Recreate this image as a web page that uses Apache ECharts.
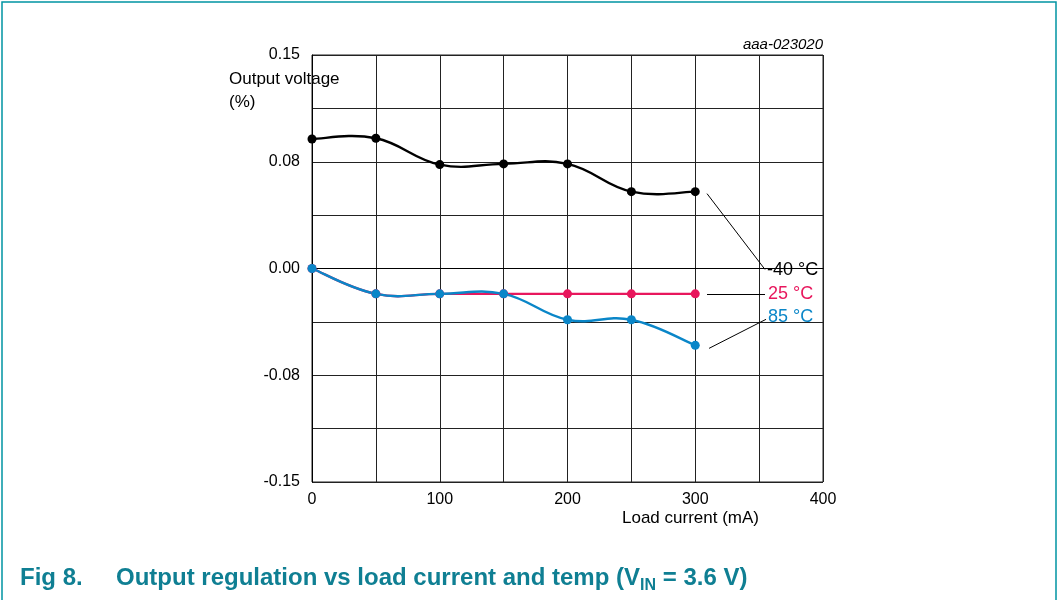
<!DOCTYPE html>
<html>
<head>
<meta charset="utf-8">
<script src="https://cdn.jsdelivr.net/npm/echarts@6/dist/echarts.min.js"></script>
<style>
  html, body { margin: 0; padding: 0; background: #fff; }
  #chart { width: 1057px; height: 600px; }
</style>
</head>
<body>
<div id="chart"></div>
<script>
// load current (mA)
var loadCurrent = [0, 50, 100, 150, 200, 250, 300];
// output voltage deviation (%)
var vMinus40 = [0.091, 0.0915, 0.073, 0.0735, 0.0735, 0.054, 0.054];
var v25 = [0, -0.0178, -0.0178, -0.0178, -0.0178, -0.0178, -0.0178];
var v85 = [0, -0.0178, -0.0178, -0.0178, -0.036, -0.036, -0.054];
var yTickLabels = ['-0.15', '-0.08', '0.00', '0.08', '0.15'];
var xTickLabels = ['0', '100', '200', '300', '400'];

var FONT = '"Liberation Sans", Arial, sans-serif';
var TITLE_COLOR = '#0f7f93';

function pairs(ys) {
  return loadCurrent.map(function (x, i) { return [x, ys[i]]; });
}

function leader(from, to) {
  return {
    silent: true,
    symbol: 'none',
    animation: false,
    label: { show: false },
    lineStyle: { color: '#000', width: 1, type: 'solid' },
    data: [[{ coord: from }, { coord: to }]]
  };
}

// spline through the points (cardinal style, like the original plot)
function curveSeries(ys, color) {
  var data = pairs(ys);
  return {
    type: 'custom',
    silent: true,
    z: 1,
    data: data,
    renderItem: function (params, api) {
      var i = params.dataIndex;
      var n = data.length;
      if (i >= n - 1) return null;
      var p = data.map(function (d) { return api.coord(d); });
      var p0 = p[Math.max(i - 1, 0)], p1 = p[i], p2 = p[i + 1], p3 = p[Math.min(i + 2, n - 1)];
      var k = 1.25 / 6;
      return {
        type: 'bezierCurve',
        shape: {
          x1: p1[0], y1: p1[1],
          x2: p2[0], y2: p2[1],
          cpx1: p1[0] + (p2[0] - p0[0]) * k,
          cpy1: p1[1] + (p2[1] - p0[1]) * k,
          cpx2: p2[0] - (p3[0] - p1[0]) * k,
          cpy2: p2[1] - (p3[1] - p1[1]) * k
        },
        style: { stroke: color, lineWidth: 2.4, fill: null }
      };
    }
  };
}

function pointSeries(name, ys, color, from, to) {
  return {
    name: name,
    type: 'line',
    z: 3,
    data: pairs(ys),
    symbol: 'circle',
    symbolSize: 9,
    itemStyle: { color: color },
    lineStyle: { width: 0, opacity: 0 },
    markLine: leader(from, to)
  };
}

var chart = echarts.init(document.getElementById('chart'));

var option = {
  animation: false,
  backgroundColor: '#fff',
  grid: {
    left: 312,
    right: 234,
    top: 55,
    bottom: 118,
    show: true,
    borderColor: '#222',
    borderWidth: 1
  },
  xAxis: {
    type: 'value',
    min: 0,
    max: 400,
    interval: 50,
    axisLine: { show: true, lineStyle: { color: '#000', width: 1 } },
    axisTick: { show: false },
    axisLabel: {
      color: '#000',
      fontSize: 16,
      fontFamily: FONT,
      margin: 10,
      showMinLabel: true,
      showMaxLabel: true,
      formatter: function (v) {
        if (v % 100 !== 0) return '';
        return xTickLabels[v / 100];
      }
    },
    splitLine: { show: true, lineStyle: { color: '#222', width: 1 } }
  },
  yAxis: {
    type: 'value',
    min: -0.15,
    max: 0.15,
    interval: 0.0375,
    axisLine: { show: true, lineStyle: { color: '#000', width: 1 } },
    axisTick: { show: false },
    axisLabel: {
      color: '#000',
      fontSize: 16,
      fontFamily: FONT,
      margin: 12,
      showMinLabel: true,
      showMaxLabel: true,
      formatter: function (v) {
        var k = v / 0.075;
        if (Math.abs(k - Math.round(k)) > 1e-6) return '';
        return yTickLabels[Math.round(k) + 2];
      }
    },
    splitLine: { show: true, lineStyle: { color: '#222', width: 1 } }
  },
  series: [
    curveSeries(vMinus40, '#000'),
    curveSeries(v25, '#e8175d'),
    curveSeries(v85, '#0a86c8'),
    pointSeries('-40 °C', vMinus40, '#000', [309.2, 0.0526], [354.6, -0.0007]),
    pointSeries('25 °C', v25, '#e8175d', [309.2, -0.0182], [354.6, -0.0182]),
    pointSeries('85 °C', v85, '#0a86c8', [310.8, -0.0561], [355.4, -0.0357])
  ],
  graphic: [
    {
      type: 'polyline',
      silent: true,
      shape: { points: [[2, 600], [2, 2], [1056, 2], [1056, 600]] },
      style: { stroke: '#0094a3', lineWidth: 1.5, fill: null }
    },
    {
      type: 'text', left: 229, top: 68, silent: true, z: 10,
      style: { text: 'Output voltage\n(%)', font: '17px ' + FONT, fill: '#000', lineHeight: 23 }
    },
    {
      type: 'text', right: 234, top: 37, silent: true,
      style: { text: 'aaa-023020', font: 'italic 15px ' + FONT, fill: '#000' }
    },
    {
      type: 'text', left: 622, top: 510, silent: true,
      style: { text: 'Load current (mA)', font: '17px ' + FONT, fill: '#000' }
    },
    {
      type: 'text', left: 767, top: 261, silent: true,
      style: { text: '-40 °C', font: '18px ' + FONT, fill: '#000' }
    },
    {
      type: 'text', left: 768, top: 285, silent: true,
      style: { text: '25 °C', font: '18px ' + FONT, fill: '#e8175d' }
    },
    {
      type: 'text', left: 768, top: 308, silent: true,
      style: { text: '85 °C', font: '18px ' + FONT, fill: '#0a86c8' }
    },
    {
      type: 'text', left: 20, top: 566, silent: true,
      style: { text: 'Fig 8.', font: 'bold 24px ' + FONT, fill: TITLE_COLOR }
    },
    {
      type: 'text', left: 116, top: 566, silent: true,
      style: {
        text: '{t|Output regulation vs load current and temp (V}{s|IN}{t| = 3.6 V)}',
        rich: {
          t: { fontFamily: FONT, fontWeight: 'bold', fontSize: 24, fill: TITLE_COLOR, verticalAlign: 'bottom' },
          s: { fontFamily: FONT, fontWeight: 'bold', fontSize: 16, fill: TITLE_COLOR, verticalAlign: 'bottom', padding: [0, 0, -4, 0] }
        }
      }
    }
  ]
};

chart.setOption(option);
</script>
</body>
</html>
